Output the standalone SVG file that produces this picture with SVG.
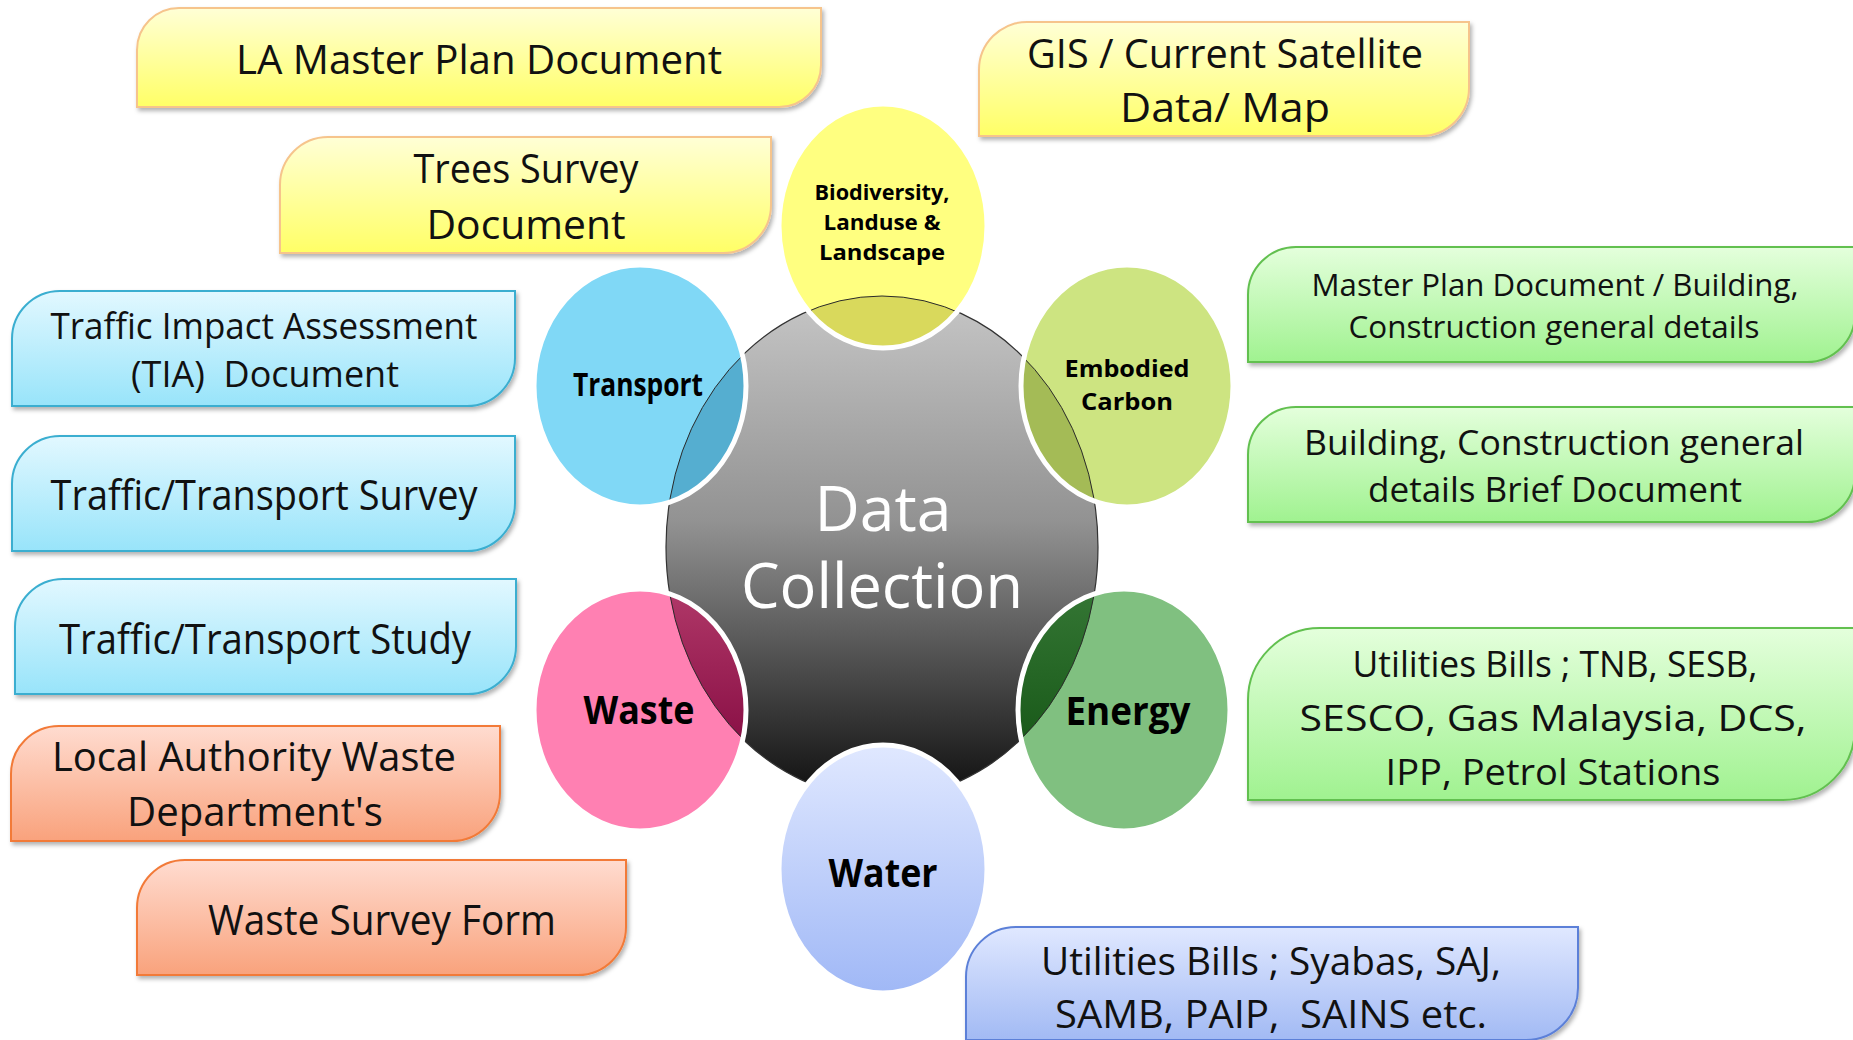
<svg xmlns="http://www.w3.org/2000/svg" width="1853" height="1040" viewBox="0 0 1853 1040">
<defs>
<linearGradient id="gY" x1="0" y1="0" x2="0" y2="1"><stop offset="0" stop-color="#ffffd6"/><stop offset="1" stop-color="#ffff66"/></linearGradient>
<linearGradient id="gB" x1="0" y1="0" x2="0" y2="1"><stop offset="0" stop-color="#e2f8ff"/><stop offset="1" stop-color="#98e4fa"/></linearGradient>
<linearGradient id="gG" x1="0" y1="0" x2="0" y2="1"><stop offset="0" stop-color="#e4ffdc"/><stop offset="1" stop-color="#a0f290"/></linearGradient>
<linearGradient id="gO" x1="0" y1="0" x2="0" y2="1"><stop offset="0" stop-color="#ffdcd0"/><stop offset="1" stop-color="#f9a27c"/></linearGradient>
<linearGradient id="gL" x1="0" y1="0" x2="0" y2="1"><stop offset="0" stop-color="#e0e8ff"/><stop offset="1" stop-color="#a2baf4"/></linearGradient>
<linearGradient id="gC" gradientUnits="userSpaceOnUse" x1="0" y1="296" x2="0" y2="798"><stop offset="0" stop-color="#c6c6c6"/><stop offset="0.45" stop-color="#929292"/><stop offset="1" stop-color="#0e0e0e"/></linearGradient>
<linearGradient id="gW" gradientUnits="userSpaceOnUse" x1="0" y1="745" x2="0" y2="993"><stop offset="0" stop-color="#e0e8ff"/><stop offset="1" stop-color="#a0b8f6"/></linearGradient>
<linearGradient id="gWo" gradientUnits="userSpaceOnUse" x1="0" y1="590" x2="0" y2="740"><stop offset="0" stop-color="#b03868"/><stop offset="1" stop-color="#8a1046"/></linearGradient>
<linearGradient id="gEo" gradientUnits="userSpaceOnUse" x1="0" y1="590" x2="0" y2="760"><stop offset="0" stop-color="#347634"/><stop offset="1" stop-color="#165616"/></linearGradient>
<filter id="sh" x="-5%" y="-10%" width="110%" height="130%"><feDropShadow dx="2" dy="3" stdDeviation="2" flood-color="#000" flood-opacity="0.3"/></filter>
<clipPath id="cBio"><ellipse cx="883" cy="226" rx="104" ry="122"/></clipPath>
<clipPath id="cTra"><ellipse cx="640" cy="386" rx="106" ry="121"/></clipPath>
<clipPath id="cEmb"><ellipse cx="1127" cy="386" rx="106" ry="121"/></clipPath>
<clipPath id="cWas"><ellipse cx="640" cy="710" rx="106" ry="121"/></clipPath>
<clipPath id="cEne"><ellipse cx="1124" cy="710" rx="106" ry="121"/></clipPath>
</defs>
<style>
.bx{filter:url(#sh);stroke-width:2}
.y{fill:url(#gY);stroke:#f6c48c}
.b{fill:url(#gB);stroke:#3aaed0}
.g{fill:url(#gG);stroke:#62c050}
.o{fill:url(#gO);stroke:#f27a38}
.l{fill:url(#gL);stroke:#5c80d8}
.t{font-family:"Open Sans","DejaVu Sans",sans-serif;fill:#111;text-anchor:middle}
.cl{font-family:"Open Sans","DejaVu Sans",sans-serif;font-weight:bold;fill:#000;text-anchor:middle}
.ring{fill:none;stroke:#fff;stroke-width:5}
.arc{stroke:#2a2a2a;stroke-width:1}
</style>
<rect width="1853" height="1040" fill="#fff"/>

<g id="connectors"></g>

<g id="box-la">
<path class="bx y" d="M137,50 A42,42 0 0 1 179,8 H821 V65 A42,42 0 0 1 779,107 H137 Z"/>
<text class="t" x="479" y="74" font-size="40" textLength="486" lengthAdjust="spacingAndGlyphs">LA Master Plan Document</text>
</g>
<g id="box-trees">
<path class="bx y" d="M280,185 A48,48 0 0 1 328,137 H771 V205 A48,48 0 0 1 723,253 H280 Z"/>
<text class="t" x="526" y="183" font-size="40" textLength="225" lengthAdjust="spacingAndGlyphs">Trees Survey</text>
<text class="t" x="526" y="239" font-size="40" textLength="199" lengthAdjust="spacingAndGlyphs">Document</text>
</g>
<g id="box-gis">
<path class="bx y" d="M979,70 A48,48 0 0 1 1027,22 H1469 V88 A48,48 0 0 1 1421,136 H979 Z"/>
<text class="t" x="1225" y="68" font-size="40" textLength="396" lengthAdjust="spacingAndGlyphs">GIS / Current Satellite</text>
<text class="t" x="1225" y="122" font-size="40" textLength="210" lengthAdjust="spacingAndGlyphs">Data/ Map</text>
</g>
<g id="box-tia">
<path class="bx b" d="M12,339 A48,48 0 0 1 60,291 H515 V358 A48,48 0 0 1 467,406 H12 Z"/>
<text class="t" x="264" y="339" font-size="36" textLength="427" lengthAdjust="spacingAndGlyphs">Traffic Impact Assessment</text>
<text class="t" x="265" y="387" font-size="36" textLength="268" lengthAdjust="spacingAndGlyphs" xml:space="preserve">(TIA)  Document</text>
</g>
<g id="box-survey">
<path class="bx b" d="M12,484 A48,48 0 0 1 60,436 H515 V503 A48,48 0 0 1 467,551 H12 Z"/>
<text class="t" x="264" y="510" font-size="42" textLength="427" lengthAdjust="spacingAndGlyphs">Traffic/Transport Survey</text>
</g>
<g id="box-study">
<path class="bx b" d="M15,627 A48,48 0 0 1 63,579 H516 V646 A48,48 0 0 1 468,694 H15 Z"/>
<text class="t" x="265" y="654" font-size="42" textLength="412" lengthAdjust="spacingAndGlyphs">Traffic/Transport Study</text>
</g>
<g id="box-local">
<path class="bx o" d="M11,774 A48,48 0 0 1 59,726 H500 V793 A48,48 0 0 1 452,841 H11 Z"/>
<text class="t" x="254" y="771" font-size="40" textLength="404" lengthAdjust="spacingAndGlyphs">Local Authority Waste</text>
<text class="t" x="255" y="826" font-size="40" textLength="256" lengthAdjust="spacingAndGlyphs">Department's</text>
</g>
<g id="box-wsf">
<path class="bx o" d="M137,908 A48,48 0 0 1 185,860 H626 V927 A48,48 0 0 1 578,975 H137 Z"/>
<text class="t" x="382" y="935" font-size="42" textLength="348" lengthAdjust="spacingAndGlyphs">Waste Survey Form</text>
</g>
<g id="box-mpd">
<path class="bx g" d="M1248,295 A48,48 0 0 1 1296,247 H1855 V314 A48,48 0 0 1 1807,362 H1248 Z"/>
<text class="t" x="1555" y="296" font-size="31" textLength="487" lengthAdjust="spacingAndGlyphs">Master Plan Document / Building,</text>
<text class="t" x="1554" y="338" font-size="31" textLength="411" lengthAdjust="spacingAndGlyphs">Construction general details</text>
</g>
<g id="box-brief">
<path class="bx g" d="M1248,455 A48,48 0 0 1 1296,407 H1855 V474 A48,48 0 0 1 1807,522 H1248 Z"/>
<text class="t" x="1554" y="455" font-size="35" textLength="500" lengthAdjust="spacingAndGlyphs">Building, Construction general</text>
<text class="t" x="1555" y="502" font-size="35" textLength="374" lengthAdjust="spacingAndGlyphs">details Brief Document</text>
</g>
<g id="box-tnb">
<path class="bx g" d="M1248,700 A72,72 0 0 1 1320,628 H1855 V728 A72,72 0 0 1 1783,800 H1248 Z"/>
<text class="t" x="1555" y="677" font-size="37" textLength="405" lengthAdjust="spacingAndGlyphs">Utilities Bills ; TNB, SESB,</text>
<text class="t" x="1553" y="731" font-size="37" textLength="507" lengthAdjust="spacingAndGlyphs">SESCO, Gas Malaysia, DCS,</text>
<text class="t" x="1553" y="785" font-size="37" textLength="335" lengthAdjust="spacingAndGlyphs">IPP, Petrol Stations</text>
</g>
<g id="box-syabas">
<path class="bx l" d="M966,977 A50,50 0 0 1 1016,927 H1578 V988 A52,52 0 0 1 1526,1040 H966 Z"/>
<text class="t" x="1271" y="975" font-size="39" textLength="460" lengthAdjust="spacingAndGlyphs">Utilities Bills ; Syabas, SAJ,</text>
<text class="t" x="1271" y="1028" font-size="39" textLength="432" lengthAdjust="spacingAndGlyphs" xml:space="preserve">SAMB, PAIP,  SAINS etc.</text>
</g>

<g id="hub">
<ellipse cx="882" cy="547" rx="216" ry="251" fill="url(#gC)" stroke="#333" stroke-width="1.2"/>
<text x="883" y="531" font-family="Open Sans, DejaVu Sans, sans-serif" font-size="62" fill="#fff" text-anchor="middle" textLength="137" lengthAdjust="spacingAndGlyphs">Data</text>
<text x="882" y="608" font-family="Open Sans, DejaVu Sans, sans-serif" font-size="62" fill="#fff" text-anchor="middle" textLength="282" lengthAdjust="spacingAndGlyphs">Collection</text>
</g>

<g id="node-bio">
<ellipse cx="883" cy="226" rx="104" ry="122" fill="#ffff80"/>
<ellipse class="arc" clip-path="url(#cBio)" cx="882" cy="547" rx="216" ry="251" fill="#d9d95c"/>
<ellipse class="ring" cx="883" cy="226" rx="104" ry="122"/>
<text class="cl" x="882" y="200" font-size="22" textLength="135" lengthAdjust="spacingAndGlyphs">Biodiversity,</text>
<text class="cl" x="882" y="230" font-size="22" textLength="117" lengthAdjust="spacingAndGlyphs">Landuse &amp;</text>
<text class="cl" x="882" y="260" font-size="22" textLength="126" lengthAdjust="spacingAndGlyphs">Landscape</text>
</g>
<g id="node-transport">
<ellipse cx="640" cy="386" rx="106" ry="121" fill="#80d8f6"/>
<ellipse class="arc" clip-path="url(#cTra)" cx="882" cy="547" rx="216" ry="251" fill="#55aed0"/>
<ellipse class="ring" cx="640" cy="386" rx="106" ry="121"/>
<text class="cl" x="638" y="396" font-size="33" textLength="130" lengthAdjust="spacingAndGlyphs">Transport</text>
</g>
<g id="node-embodied">
<ellipse cx="1127" cy="386" rx="106" ry="121" fill="#cde481"/>
<ellipse class="arc" clip-path="url(#cEmb)" cx="882" cy="547" rx="216" ry="251" fill="#a4bb56"/>
<ellipse class="ring" cx="1127" cy="386" rx="106" ry="121"/>
<text class="cl" x="1127" y="377" font-size="24" textLength="125" lengthAdjust="spacingAndGlyphs">Embodied</text>
<text class="cl" x="1127" y="410" font-size="24" textLength="92" lengthAdjust="spacingAndGlyphs">Carbon</text>
</g>
<g id="node-waste">
<ellipse cx="640" cy="710" rx="106" ry="121" fill="#ff80b2"/>
<ellipse class="arc" clip-path="url(#cWas)" cx="882" cy="547" rx="216" ry="251" fill="url(#gWo)"/>
<ellipse class="ring" cx="640" cy="710" rx="106" ry="121"/>
<text class="cl" x="639" y="724" font-size="40" textLength="111" lengthAdjust="spacingAndGlyphs">Waste</text>
</g>
<g id="node-energy">
<ellipse cx="1124" cy="710" rx="106" ry="121" fill="#80c080"/>
<ellipse class="arc" clip-path="url(#cEne)" cx="882" cy="547" rx="216" ry="251" fill="url(#gEo)"/>
<ellipse class="ring" cx="1124" cy="710" rx="106" ry="121"/>
<text class="cl" x="1128" y="725" font-size="40" textLength="125" lengthAdjust="spacingAndGlyphs">Energy</text>
</g>
<g id="node-water">
<ellipse cx="883" cy="869" rx="104" ry="124" fill="url(#gW)"/>
<ellipse class="ring" cx="883" cy="869" rx="104" ry="124"/>
<text class="cl" x="883" y="887" font-size="40" textLength="109" lengthAdjust="spacingAndGlyphs">Water</text>
</g>
</svg>
